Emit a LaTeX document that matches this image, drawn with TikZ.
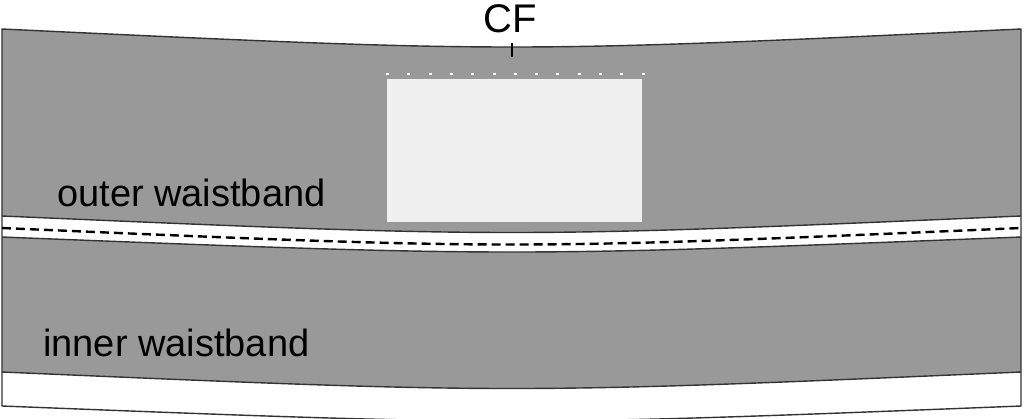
\documentclass[tikz,border=0pt]{standalone}
\usepackage{fontspec}
\setmainfont{Liberation Sans}
\definecolor{bandgris}{RGB}{153,153,153}
\definecolor{toile}{RGB}{240,240,240}
\begin{document}
\begin{tikzpicture}[x=1pt, y=-1pt]
	\tikzset{trait/.style={draw=black!80, line width=1.4pt}, couture/.style={black, line width=2.4pt, dash pattern=on 9pt off 5pt}, pointille/.style={white, line width=2.6pt, dash pattern=on 3pt off 18.3pt}, etiquette/.style={font=\fontsize{38}{40}\selectfont, inner sep=0pt}};

	\useasboundingbox (0,0) rectangle (1024,418);

	\fill[bandgris] (2,29) .. controls (512,53) .. (1021,29) -- (1021,216) .. controls (512,238) .. (2,216) -- cycle;
	\fill[bandgris] (2,237) .. controls (512,257) .. (1021,237) -- (1021,372) .. controls (512,394) .. (2,372) -- cycle;
	\fill[toile] (387,79) rectangle (642,222);

	\draw[trait] (2,29) .. controls (512,53) .. (1021,29) -- (1021,406) .. controls (512,426) .. (2,406) -- cycle;
	\draw[trait] (2,216) .. controls (512,238) .. (1021,216);
	\draw[trait] (2,237) .. controls (512,257) .. (1021,237);
	\draw[trait] (2,372) .. controls (512,394) .. (1021,372);
	\draw[couture] (2,228) .. controls (512,250) .. (1021,228);
	\draw[pointille] (386,74) -- (645,74);

	\node[etiquette, anchor=base, font=\fontsize{40}{42}\selectfont] (cf) at (510,32) {CF};
	\coordinate (cfhaut) at (512,43);
	\coordinate (cfbas) at (512,57);
	\draw[black, line width=1.8pt] (cfhaut) -- (cfbas);

	\node[etiquette, anchor=base west] (exterieur) at (57,206) {outer waistband};
	\node[etiquette, anchor=base west] (interieur) at (43,356) {inner waistband};

\end{tikzpicture}
\end{document}
